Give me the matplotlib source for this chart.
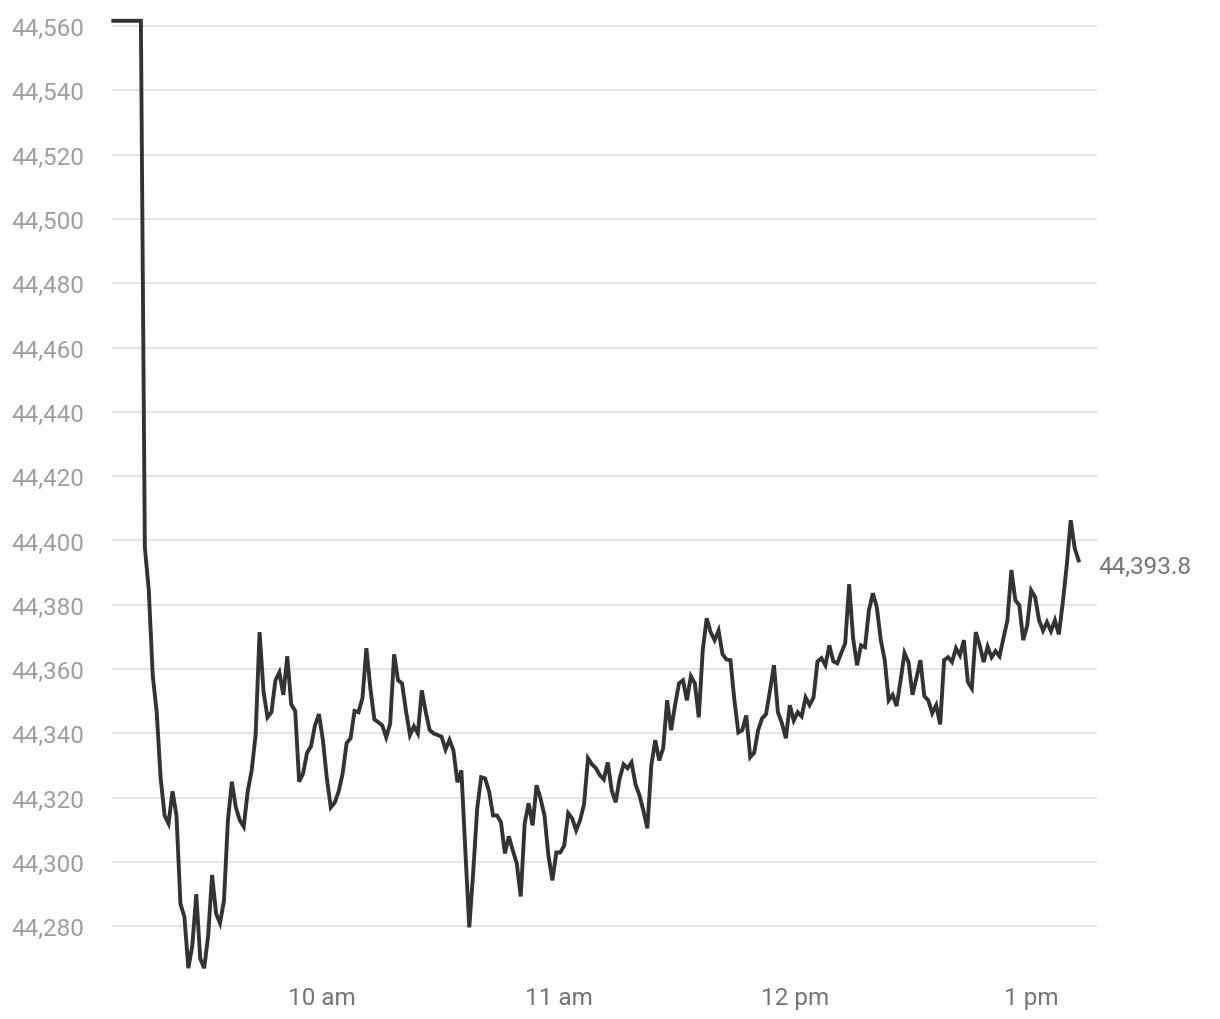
import pandas as pd
import matplotlib
matplotlib.use("Agg")
import matplotlib.pyplot as plt
from matplotlib.ticker import FuncFormatter

plt.rcParams['font.family'] = ['Roboto', 'DejaVu Sans']

# pre-open (flat) segment
pre_times = ["2023-01-02 09:07", "2023-01-02 09:14"]
pre_vals = [44561.6, 44561.6]

# intraday, roughly one point per minute from 9:15 to 13:12
vals = [
    44398, 44384.5, 44358, 44346.6, 44326, 44314.5, 44312, 44322, 44314.5, 44287,
    44283, 44267, 44274, 44290, 44270, 44267, 44277, 44296, 44284, 44281,
    44288, 44313, 44325, 44317, 44313, 44311, 44322, 44328.5, 44339.5, 44371.5,
    44353, 44345, 44346.6, 44356.5, 44359, 44352, 44364, 44349, 44347, 44325,
    44327.6, 44334, 44336, 44342.5, 44346, 44338, 44326, 44317, 44318.5, 44322,
    44327.6, 44337, 44338.5, 44347, 44346.6, 44351, 44366.5, 44354, 44344.4, 44343.5,
    44342.5, 44338.8, 44343, 44364.6, 44356.5, 44355.6, 44347, 44339.5, 44342.2, 44340,
    44353.4, 44346.6, 44341, 44340, 44339.5, 44339, 44335, 44338, 44334.7, 44324.8,
    44328.5, 44303.6, 44279.7, 44297, 44316.7, 44326.4, 44326, 44322, 44314.5, 44314.5,
    44312.4, 44302.7, 44308, 44303.6, 44299.6, 44289.3, 44312, 44318.3, 44311.4, 44323.9,
    44319.8, 44314.5, 44302, 44294.3, 44303, 44303, 44305.2, 44315.2, 44313.6, 44309.9,
    44313, 44318, 44332.3, 44330.4, 44329.2, 44327, 44325.7, 44331, 44322.3, 44318.6,
    44326, 44330.4, 44329.2, 44331, 44324.2, 44320.8, 44316, 44310.5, 44330, 44337.9,
    44331.6, 44335.4, 44350.3, 44341, 44348.8, 44355.6, 44356.5, 44350.3, 44357.8, 44355.6,
    44345, 44365.9, 44375.8, 44371.5, 44369, 44372, 44364.6, 44363, 44362.8, 44350.3,
    44340.3, 44341, 44345.6, 44332.6, 44334, 44341, 44344.7, 44346, 44353.4, 44361.2,
    44346.6, 44343.2, 44338.5, 44348.8, 44344, 44346.6, 44345.3, 44351.2, 44348.8, 44351.2,
    44362.4, 44363.4, 44361.2, 44367.4, 44362.4, 44361.8, 44365, 44368, 44386.4, 44369.6,
    44361.2, 44367.4, 44366.8, 44378.3, 44383.6, 44379.2, 44369, 44362.8, 44350.3, 44352,
    44348.5, 44356.5, 44365, 44362.2, 44352, 44357.2, 44362.8, 44351.6, 44350.3, 44346.3,
    44348.8, 44342.8, 44362.8, 44363.7, 44362.2, 44366.5, 44364.3, 44369, 44356, 44354,
    44371.5, 44367.4, 44362.2, 44367, 44363.7, 44365.6, 44364, 44369.6, 44375.2, 44390.8,
    44381.4, 44379.9, 44369, 44373.6, 44384.5, 44382.4, 44375.2, 44372, 44374.6, 44371.8,
    44375.2, 44370.8, 44380.8, 44392.3, 44406.3, 44397.6, 44393.8,
]
y_ticks = [44280, 44300, 44320, 44340, 44360, 44380, 44400, 44420,
           44440, 44460, 44480, 44500, 44520, 44540, 44560]
x_ticks = ["2023-01-02 10:00", "2023-01-02 11:00", "2023-01-02 12:00", "2023-01-02 13:00"]
x_labels = ["10 am", "11 am", "12 pm", "1 pm"]
last_label = "44,393.8"

times = pd.date_range("2023-01-02 09:15", "2023-01-02 13:12", periods=len(vals))
t_all = list(pd.to_datetime(pre_times)) + list(times)
v_all = pre_vals + vals

fig = plt.figure(figsize=(12.2, 10.2), dpi=100)
ax = fig.add_axes([0.0918, 0.0353, 0.8074, 0.949])

ax.plot(t_all, v_all, color="#333333", lw=2.8, solid_joinstyle="miter", clip_on=False, zorder=3)

ax.set_xlim(pd.Timestamp("2023-01-02 09:06:40"), pd.Timestamp("2023-01-02 13:16:40"))
ax.set_ylim(44262.4, 44563.4)

ax.set_yticks(y_ticks)
ax.yaxis.set_major_formatter(FuncFormatter(lambda v, p: f"{v:,.0f}"))
ax.set_xticks(pd.to_datetime(x_ticks))
ax.set_xticklabels(x_labels)

ax.grid(axis="y", color="#e3e3e3", lw=1.3)
ax.set_axisbelow(True)
for s in ax.spines.values():
    s.set_visible(False)
ax.tick_params(axis="y", length=0, pad=20, labelsize=17.5, labelcolor="#9e9e9e")
ax.tick_params(axis="x", length=0, pad=2, labelsize=17.5, labelcolor="#757575")

ax.annotate(last_label, xy=(times[-1], vals[-1]), xytext=(14, -4), textcoords="offset points",
            ha="left", va="center", fontsize=17.5, color="#757575")

fig.savefig("out.png", dpi=100)
